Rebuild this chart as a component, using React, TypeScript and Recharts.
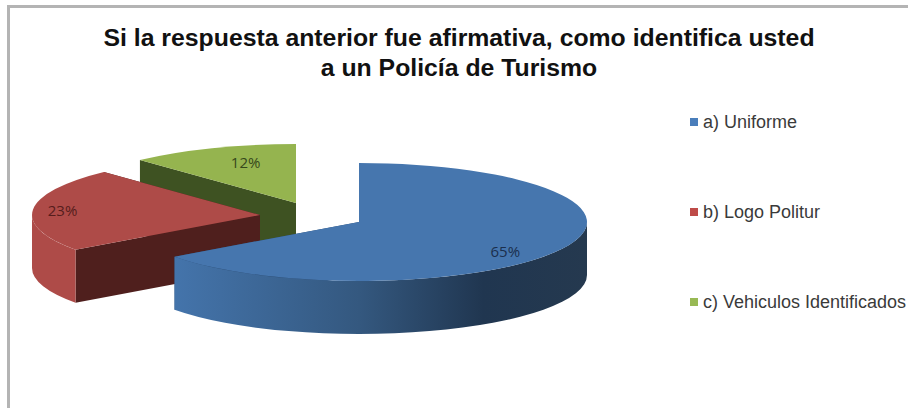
import React from "react";
import { PieChart, Pie, Legend } from "recharts";

// Survey answers, in legend order
const categories = ["a) Uniforme", "b) Logo Politur", "c) Vehiculos Identificados"];
const shares = [65, 23, 12];
const titleLines = [
  "Si la respuesta anterior fue afirmativa, como identifica usted",
  "a un Policía de Turismo",
];

// Appearance of each answer's slice
const topColors = ["#4676AE", "#AE4B48", "#95B44F"];
const legendColors = ["#4A7EBB", "#BE4B48", "#98B954"];
const sideColors = ["url(#blueWall)", "#AE4B48", "#95B44F"];
const cutColors = ["#2A4A70", "#4F1F1D", "#3E5222"];
const labelColors = ["#1B2F4D", "#561D1C", "#35481B"];
const explodeX = [0, -99, -63];
const explodeY = [0, -7, -19];
const labelReachX = [0.72, 0.87, 0.6];
const labelReachY = [1.1, 0.87, 0.75];

// Painted back to front, so the list runs from the last answer to the first
const sectors = categories
  .map((name, i) => ({ name, value: shares[i], fill: topColors[i], order: i }))
  .reverse();

const CX = 359;
const CY = 222;
const RX = 228;
const SQUASH = 59 / 228;
const DEPTH = 53;
const RAD = Math.PI / 180;

const pointAt = (x: number, y: number, r: number, deg: number) => [
  x + r * Math.cos(deg * RAD),
  y - r * SQUASH * Math.sin(deg * RAD),
];

// Top face, cut faces and rim of one exploded slice, seen from above
function TiltedSlice(props: any) {
  const { cx, cy, outerRadius: r, startAngle, endAngle, fill, order } = props;
  const x = cx + explodeX[order];
  const y = cy + explodeY[order];
  const ry = r * SQUASH;
  const [sx, sy] = pointAt(x, y, r, startAngle);
  const [ex, ey] = pointAt(x, y, r, endAngle);
  const large = endAngle - startAngle > 180 ? 1 : 0;

  const cutFace = (px: number, py: number) =>
    `M${x},${y}L${px},${py}L${px},${py + DEPTH}L${x},${y + DEPTH}Z`;

  // Only the part of the rim on the near half of the ellipse is visible
  const rimFrom = Math.max(startAngle, 180);
  const rimTo = Math.min(endAngle, 360);
  let rim = null;
  if (rimTo > rimFrom) {
    const [ax, ay] = pointAt(x, y, r, rimFrom);
    const [bx, by] = pointAt(x, y, r, rimTo);
    rim = (
      <path
        d={`M${ax},${ay}A${r},${ry} 0 0 0 ${bx},${by}L${bx},${by + DEPTH}A${r},${ry} 0 0 1 ${ax},${ay + DEPTH}Z`}
        fill={sideColors[order]}
      />
    );
  }

  return (
    <g>
      <path d={cutFace(sx, sy)} fill={cutColors[order]} />
      <path d={cutFace(ex, ey)} fill={cutColors[order]} />
      {rim}
      <path d={`M${x},${y}L${sx},${sy}A${r},${ry} 0 ${large} 0 ${ex},${ey}Z`} fill={fill} />
    </g>
  );
}

function ShareLabel(props: any) {
  const { cx, cy, outerRadius: r, midAngle, value, order } = props;
  const px = cx + explodeX[order] + r * labelReachX[order] * Math.cos(midAngle * RAD);
  const py = cy + explodeY[order] - r * SQUASH * labelReachY[order] * Math.sin(midAngle * RAD);
  return (
    <text
      x={px}
      y={py}
      textAnchor="middle"
      dominantBaseline="central"
      fontFamily="'Open Sans', sans-serif"
      fontSize={15}
      fill={labelColors[order]}
    >
      {`${value}%`}
    </text>
  );
}

function LegendList() {
  return (
    <div style={{ position: "relative", width: 218, height: 200 }}>
      {categories.map((name, i) => (
        <div
          key={name}
          style={{
            position: "absolute",
            left: 0,
            top: i * 90,
            display: "flex",
            alignItems: "center",
            whiteSpace: "nowrap",
            fontFamily: "'Liberation Sans', Arial, sans-serif",
            fontSize: 18,
            lineHeight: "20px",
            color: "#3A3A3A",
          }}
        >
          <span
            style={{
              width: 8,
              height: 8,
              marginRight: 5,
              background: legendColors[i],
              display: "inline-block",
            }}
          />
          {name}
        </div>
      ))}
    </div>
  );
}

export default function App() {
  return (
    <div style={{ position: "absolute", left: 0, top: 0, width: 908, height: 408, background: "#fff", overflow: "hidden" }}>
      <PieChart width={908} height={408} margin={{ top: 0, right: 0, bottom: 0, left: 0 }}>
        <defs>
          <linearGradient id="blueWall" gradientUnits="userSpaceOnUse" x1={174} y1={0} x2={587} y2={0}>
            <stop offset="0" stopColor="#4474AB" />
            <stop offset="0.45" stopColor="#34587F" />
            <stop offset="0.75" stopColor="#203650" />
            <stop offset="1" stopColor="#25394F" />
          </linearGradient>
        </defs>
        <path d="M8.5,408V6.5H908" fill="none" stroke="#B4B4B4" strokeWidth={3} />
        {titleLines.map((line, i) => (
          <text
            key={line}
            x={459}
            y={46 + i * 30}
            textAnchor="middle"
            fontFamily="'Liberation Sans', Arial, sans-serif"
            fontWeight="bold"
            fontSize={24.8}
            fill="#111"
          >
            {line}
          </text>
        ))}
        <Pie
          data={sectors}
          dataKey="value"
          nameKey="name"
          cx={CX}
          cy={CY}
          outerRadius={RX}
          startAngle={90}
          endAngle={450}
          stroke="none"
          isAnimationActive={false}
          shape={TiltedSlice}
          label={ShareLabel}
          labelLine={false}
        />
        <Legend content={LegendList} wrapperStyle={{ left: 690, top: 112, width: 218, bottom: "auto", right: "auto" }} />
      </PieChart>
    </div>
  );
}
